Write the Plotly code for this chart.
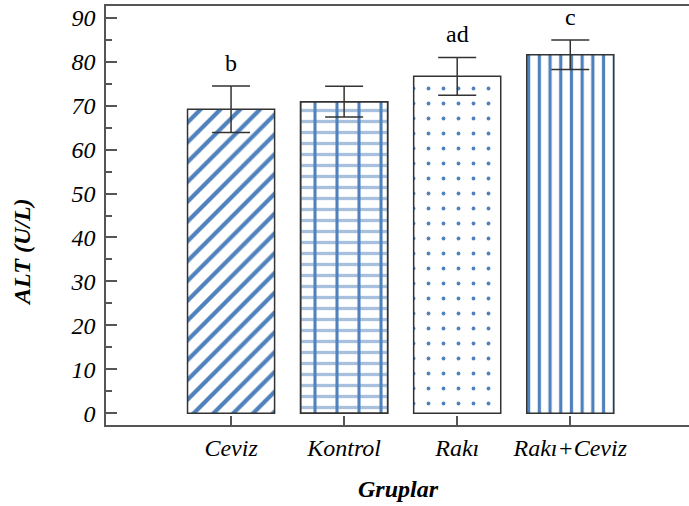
import plotly.graph_objects as go

groups = ["Ceviz", "Kontrol", "Rakı", "Rakı+Ceviz"]
means = [69.2, 70.9, 76.7, 81.6]
errors = [5.3, 3.5, 4.3, 3.35]
letters = ["b", "", "ad", "c"]
y_ticks = [0, 10, 20, 30, 40, 50, 60, 70, 80, 90]

BLUE = "#4f81bd"
SERIF = "Liberation Serif"

fig = go.Figure()

# main bars
fig.add_trace(go.Bar(
    x=groups, y=means, width=0.77,
    marker=dict(
        color="white",
        line=dict(color="#333333", width=1.5),
        pattern=dict(
            shape=["/", "|", ".", "|"],
            size=[14, 22, 15, 10.7],
            solidity=[0.3, 0.14, 0.05, 0.3],
            fgcolor=BLUE,
            bgcolor="white",
            fillmode="replace",
        ),
    ),
    showlegend=False,
    hoverinfo="skip",
))

# horizontal mortar lines for the brick-like Kontrol bar
fig.add_trace(go.Bar(
    x=[groups[1]], y=[means[1]], width=0.77,
    marker=dict(
        color="rgba(0,0,0,0)",
        line=dict(color="#333333", width=1.5),
        pattern=dict(shape="-", size=11, solidity=0.3, fgcolor=BLUE),
    ),
    showlegend=False,
    hoverinfo="skip",
))

# error bars
fig.add_trace(go.Scatter(
    x=groups, y=means, mode="markers",
    marker=dict(size=1, color="rgba(0,0,0,0)"),
    error_y=dict(type="data", array=errors, visible=True,
                 color="#333333", thickness=1.5, width=19),
    showlegend=False,
    hoverinfo="skip",
))

for g, m, e, t in zip(groups, means, errors, letters):
    if t:
        fig.add_annotation(
            x=g, y=m + e, text=t, showarrow=False,
            yanchor="bottom", yshift=8,
            font=dict(family=SERIF, size=24, color="black"),
        )

fig.add_annotation(
    xref="paper", yref="paper", x=-0.144, y=0.413,
    text="<b><i>ALT (U/L)</i></b>", textangle=-90, showarrow=False,
    xanchor="center", yanchor="middle",
    font=dict(family=SERIF, size=24, color="black"),
)
fig.add_annotation(
    xref="paper", yref="paper", x=0.501, y=-0.153,
    text="<b><i>Gruplar</i></b>", showarrow=False,
    xanchor="center", yanchor="middle",
    font=dict(family=SERIF, size=24, color="black"),
)

fig.update_layout(
    width=689, height=506,
    margin=dict(l=106, r=0, t=6, b=81),
    paper_bgcolor="white", plot_bgcolor="white",
    barmode="overlay",
    xaxis=dict(
        type="category", range=[-1.106, 4.05], automargin=False,
        showline=True, linecolor="#555555", linewidth=1.5, mirror=True,
        ticks="inside", ticklen=9, tickwidth=1.5, tickcolor="#555555",
        showgrid=False, zeroline=False,
        tickfont=dict(family=SERIF, size=24, color="black", style="italic"),
        ticklabelstandoff=0,
    ),
    yaxis=dict(
        range=[-2.7, 92.7], automargin=False,
        tickvals=y_ticks,
        showline=True, linecolor="#555555", linewidth=1.5,
        ticks="inside", ticklen=11, tickwidth=1.5, tickcolor="#555555",
        minor=dict(dtick=5, ticks="inside", ticklen=6, tickwidth=1.5, tickcolor="#555555", tick0=5),
        showgrid=False, zeroline=False,
        tickfont=dict(family=SERIF, size=24, color="black", style="italic"),
        ticklabelstandoff=4,
    ),
)

fig.write_html(
    "out.html",
    config={"displayModeBar": False},
    post_script="document.body.style.margin='0';document.body.style.overflow='hidden';",
)
